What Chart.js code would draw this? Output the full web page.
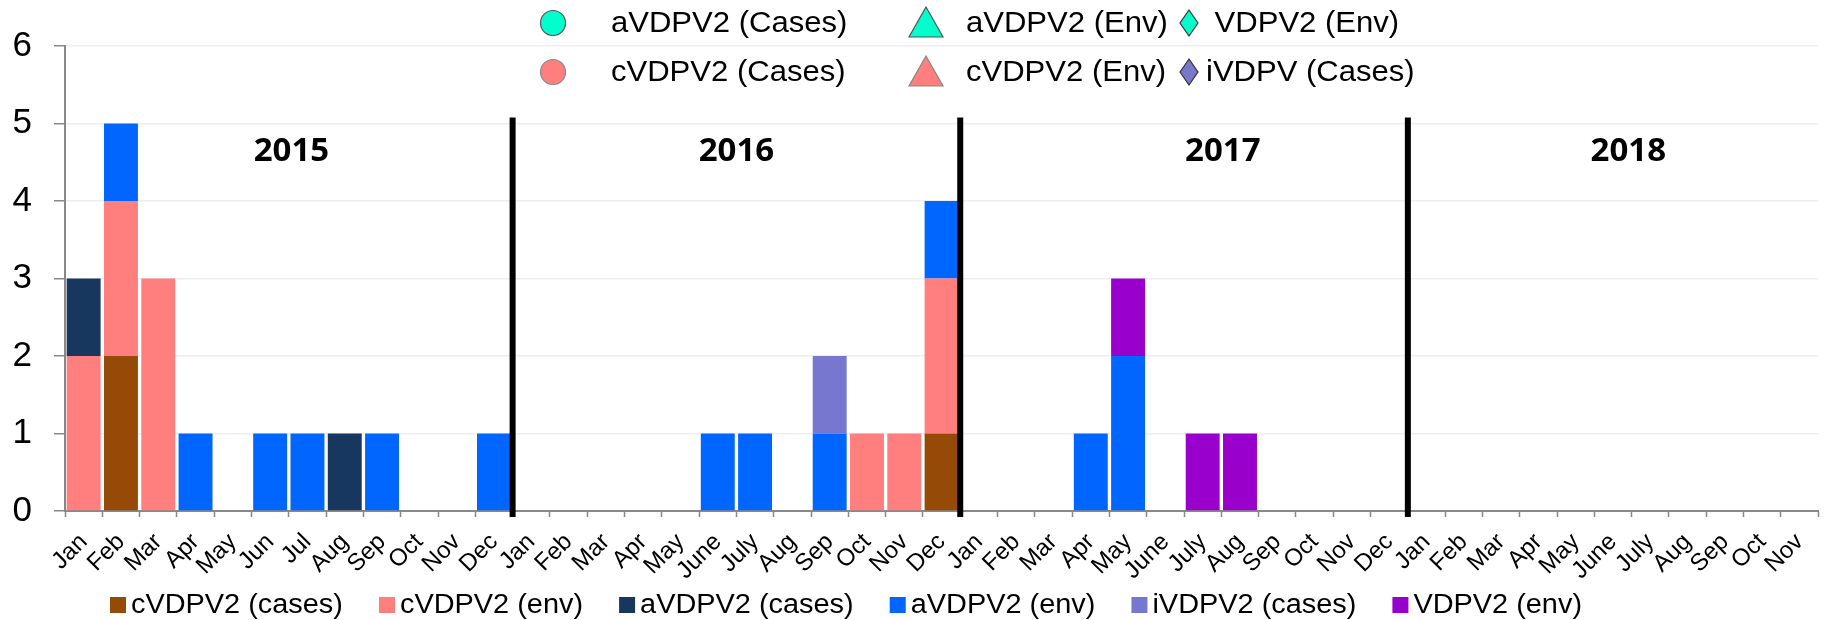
<!DOCTYPE html>
<html>
<head>
<meta charset="utf-8">
<script src="https://cdn.jsdelivr.net/npm/chart.js@4.4.1/dist/chart.umd.min.js"></script>
<style>
    html, body { margin: 0; padding: 0; background: #fff; }
    #wrap { width: 1831px; height: 620px; position: relative; }
</style>
</head>
<body>
<div id="wrap"><canvas id="vdpvChart"></canvas></div>
<script>
// --- Data ---
const monthLabels = [
    'Jan', 'Feb', 'Mar', 'Apr', 'May', 'Jun', 'Jul', 'Aug', 'Sep', 'Oct', 'Nov', 'Dec',
    'Jan', 'Feb', 'Mar', 'Apr', 'May', 'June', 'July', 'Aug', 'Sep', 'Oct', 'Nov', 'Dec',
    'Jan', 'Feb', 'Mar', 'Apr', 'May', 'June', 'July', 'Aug', 'Sep', 'Oct', 'Nov', 'Dec',
    'Jan', 'Feb', 'Mar', 'Apr', 'May', 'June', 'July', 'Aug', 'Sep', 'Oct', 'Nov'
];
const yearLabels = ['2015', '2016', '2017', '2018'];

// bar series, bottom to top of each stack
const cVdpv2Cases = [0, 2, 0, 0, 0, 0, 0, 0, 0, 0, 0, 0,  0, 0, 0, 0, 0, 0, 0, 0, 0, 0, 0, 1,  0, 0, 0, 0, 0, 0, 0, 0, 0, 0, 0, 0,  0, 0, 0, 0, 0, 0, 0, 0, 0, 0, 0];
const cVdpv2Env   = [2, 2, 3, 0, 0, 0, 0, 0, 0, 0, 0, 0,  0, 0, 0, 0, 0, 0, 0, 0, 0, 1, 1, 2,  0, 0, 0, 0, 0, 0, 0, 0, 0, 0, 0, 0,  0, 0, 0, 0, 0, 0, 0, 0, 0, 0, 0];
const aVdpv2Cases = [1, 0, 0, 0, 0, 0, 0, 1, 0, 0, 0, 0,  0, 0, 0, 0, 0, 0, 0, 0, 0, 0, 0, 0,  0, 0, 0, 0, 0, 0, 0, 0, 0, 0, 0, 0,  0, 0, 0, 0, 0, 0, 0, 0, 0, 0, 0];
const aVdpv2Env   = [0, 1, 0, 1, 0, 1, 1, 0, 1, 0, 0, 1,  0, 0, 0, 0, 0, 1, 1, 0, 1, 0, 0, 1,  0, 0, 0, 1, 2, 0, 0, 0, 0, 0, 0, 0,  0, 0, 0, 0, 0, 0, 0, 0, 0, 0, 0];
const iVdpv2Cases = [0, 0, 0, 0, 0, 0, 0, 0, 0, 0, 0, 0,  0, 0, 0, 0, 0, 0, 0, 0, 1, 0, 0, 0,  0, 0, 0, 0, 0, 0, 0, 0, 0, 0, 0, 0,  0, 0, 0, 0, 0, 0, 0, 0, 0, 0, 0];
const vdpv2Env    = [0, 0, 0, 0, 0, 0, 0, 0, 0, 0, 0, 0,  0, 0, 0, 0, 0, 0, 0, 0, 0, 0, 0, 0,  0, 0, 0, 0, 1, 0, 1, 1, 0, 0, 0, 0,  0, 0, 0, 0, 0, 0, 0, 0, 0, 0, 0];

// --- Legend / overlay plugin ---
function drawMarker(ctx, style, x, y, fill, stroke) {
    ctx.beginPath();
    if (style === 'circle') {
        ctx.arc(x, y, 12.5, 0, Math.PI * 2);
    } else if (style === 'triangle') {
        ctx.moveTo(x, y - 16);
        ctx.lineTo(x + 17, y + 14);
        ctx.lineTo(x - 17, y + 14);
        ctx.closePath();
    } else {
        ctx.moveTo(x, y - 13);
        ctx.lineTo(x + 9, y);
        ctx.lineTo(x, y + 13);
        ctx.lineTo(x - 9, y);
        ctx.closePath();
    }
    ctx.fillStyle = fill;
    ctx.fill();
    ctx.lineWidth = 1.2;
    ctx.strokeStyle = stroke;
    ctx.stroke();
}

function stretchedText(ctx, text, x, y, sx) {
    ctx.save();
    ctx.translate(x, y);
    ctx.scale(sx, 1);
    ctx.fillText(text, 0, 0);
    ctx.restore();
}

const overlayPlugin = {
    id: 'overlay',
    afterDatasetsDraw(chart, args, opts) {
        const { ctx, chartArea, scales: { x, y } } = chart;
        ctx.save();

        // year dividers before each January
        ctx.strokeStyle = '#000';
        ctx.lineWidth = 6;
        monthLabels.forEach((m, i) => {
            if (m !== 'Jan' || i === 0) return;
            const px = (x.getPixelForValue(i - 1) + x.getPixelForValue(i)) / 2;
            ctx.beginPath();
            ctx.moveTo(px, y.getPixelForValue(5) - 6);
            ctx.lineTo(px, chartArea.bottom + 6);
            ctx.stroke();
        });

        // year titles
        ctx.fillStyle = '#000';
        ctx.font = 'bold 33px "Open Sans"';
        ctx.textAlign = 'center';
        ctx.textBaseline = 'middle';
        yearLabels.forEach((t, i) => {
            ctx.fillText(t, x.getPixelForValue(opts.yearCenters[i]), y.getPixelForValue(opts.yearY));
        });
        ctx.restore();
    },
    afterDraw(chart, args, opts) {
        const ctx = chart.ctx;
        const sets = chart.data.datasets;
        ctx.save();
        ctx.textBaseline = 'middle';
        ctx.textAlign = 'left';
        ctx.fillStyle = '#000';

        // top legend: marker series, 3 columns x 2 rows
        ctx.font = '29px "Liberation Sans"';
        const markers = sets.filter(d => d.type === 'line');
        markers.forEach((d, i) => {
            const col = i % 3, row = Math.floor(i / 3);
            const ry = opts.topRows[row];
            drawMarker(ctx, d.pointStyle, opts.topMarkerX[col], ry, d.backgroundColor, d.borderColor);
            ctx.fillStyle = '#000';
            stretchedText(ctx, d.label, opts.topTextX[col], ry + 1, 1.07);
        });

        // bottom legend: bar series in one row
        ctx.font = '27px "Liberation Sans"';
        const bars = sets.filter(d => d.type !== 'line');
        const box = 16, gapText = 5;
        const widths = bars.map(d => ctx.measureText(d.label).width * 1.07);
        const used = widths.reduce((a, w) => a + w + box + gapText, 0);
        const gap = (opts.bottomRight - opts.bottomLeft - used) / (bars.length - 1);
        let cx = opts.bottomLeft;
        bars.forEach((d, i) => {
            ctx.fillStyle = d.backgroundColor;
            ctx.fillRect(cx, opts.bottomY - box / 2, box, box);
            ctx.fillStyle = '#000';
            stretchedText(ctx, d.label, cx + box + gapText, opts.bottomY + 1, 1.07);
            cx += box + gapText + widths[i] + gap;
        });
        ctx.restore();
    }
};

// --- Chart ---
Chart.defaults.font.family = '"Liberation Sans", Arial, sans-serif';
Chart.defaults.color = '#000';

const barStyle = { type: 'bar', stack: 'cases', borderWidth: 0, barPercentage: 0.91, categoryPercentage: 1 };
const markerStyle = { type: 'line', data: [], showLine: false, borderWidth: 1 };

new Chart(document.getElementById('vdpvChart'), {
    data: {
        labels: monthLabels,
        datasets: [
            { ...barStyle, label: 'cVDPV2 (cases)', data: cVdpv2Cases, backgroundColor: '#964A08' },
            { ...barStyle, label: 'cVDPV2 (env)', data: cVdpv2Env, backgroundColor: '#FF7F7F' },
            { ...barStyle, label: 'aVDPV2 (cases)', data: aVdpv2Cases, backgroundColor: '#17375E' },
            { ...barStyle, label: 'aVDPV2 (env)', data: aVdpv2Env, backgroundColor: '#0066FF' },
            { ...barStyle, label: 'iVDPV2 (cases)', data: iVdpv2Cases, backgroundColor: '#7777CF' },
            { ...barStyle, label: 'VDPV2 (env)', data: vdpv2Env, backgroundColor: '#9900CC' },
            { ...markerStyle, label: 'aVDPV2 (Cases)', pointStyle: 'circle', backgroundColor: '#00FFCC', borderColor: '#555' },
            { ...markerStyle, label: 'aVDPV2 (Env)', pointStyle: 'triangle', backgroundColor: '#00FFCC', borderColor: '#555' },
            { ...markerStyle, label: ' VDPV2 (Env)', pointStyle: 'rectRot', backgroundColor: '#00FFCC', borderColor: '#333' },
            { ...markerStyle, label: 'cVDPV2 (Cases)', pointStyle: 'circle', backgroundColor: '#FF7F7F', borderColor: '#888' },
            { ...markerStyle, label: 'cVDPV2 (Env)', pointStyle: 'triangle', backgroundColor: '#FF7F7F', borderColor: '#888' },
            { ...markerStyle, label: 'iVDPV (Cases)', pointStyle: 'rectRot', backgroundColor: '#7777CC', borderColor: '#333' }
        ]
    },
    options: {
        responsive: true,
        maintainAspectRatio: false,
        animation: false,
        layout: { padding: { left: 12, right: 11, top: 46, bottom: 19 } },
        plugins: {
            legend: { display: false },
            tooltip: { enabled: false },
            overlay: {
                yearCenters: [5.57, 17.5, 30.54, 41.41],
                yearY: 4.64,
                topRows: [23, 72],
                topMarkerX: [553, 926, 1189],
                topTextX: [611, 966, 1206],
                bottomLeft: 110,
                bottomRight: 1582,
                bottomY: 605
            }
        },
        scales: {
            x: {
                stacked: true,
                grid: { drawOnChartArea: false, tickLength: 6, tickColor: '#888', tickWidth: 1.5 },
                border: { color: '#888', width: 2 },
                ticks: {
                    font: { size: 24 },
                    maxRotation: 45,
                    minRotation: 45,
                    autoSkip: false,
                    padding: 11
                },
                afterFit: s => { s.height = 90; }
            },
            y: {
                stacked: true,
                min: 0,
                max: 6,
                grid: { color: '#eeeeee', lineWidth: 1.5, tickLength: 11, tickColor: '#888', tickWidth: 1.5 },
                border: { color: '#888', width: 2 },
                ticks: { stepSize: 1, font: { size: 35 }, padding: 22 },
                afterFit: s => { s.width = 53; }
            }
        }
    },
    plugins: [overlayPlugin]
});
</script>
</body>
</html>
